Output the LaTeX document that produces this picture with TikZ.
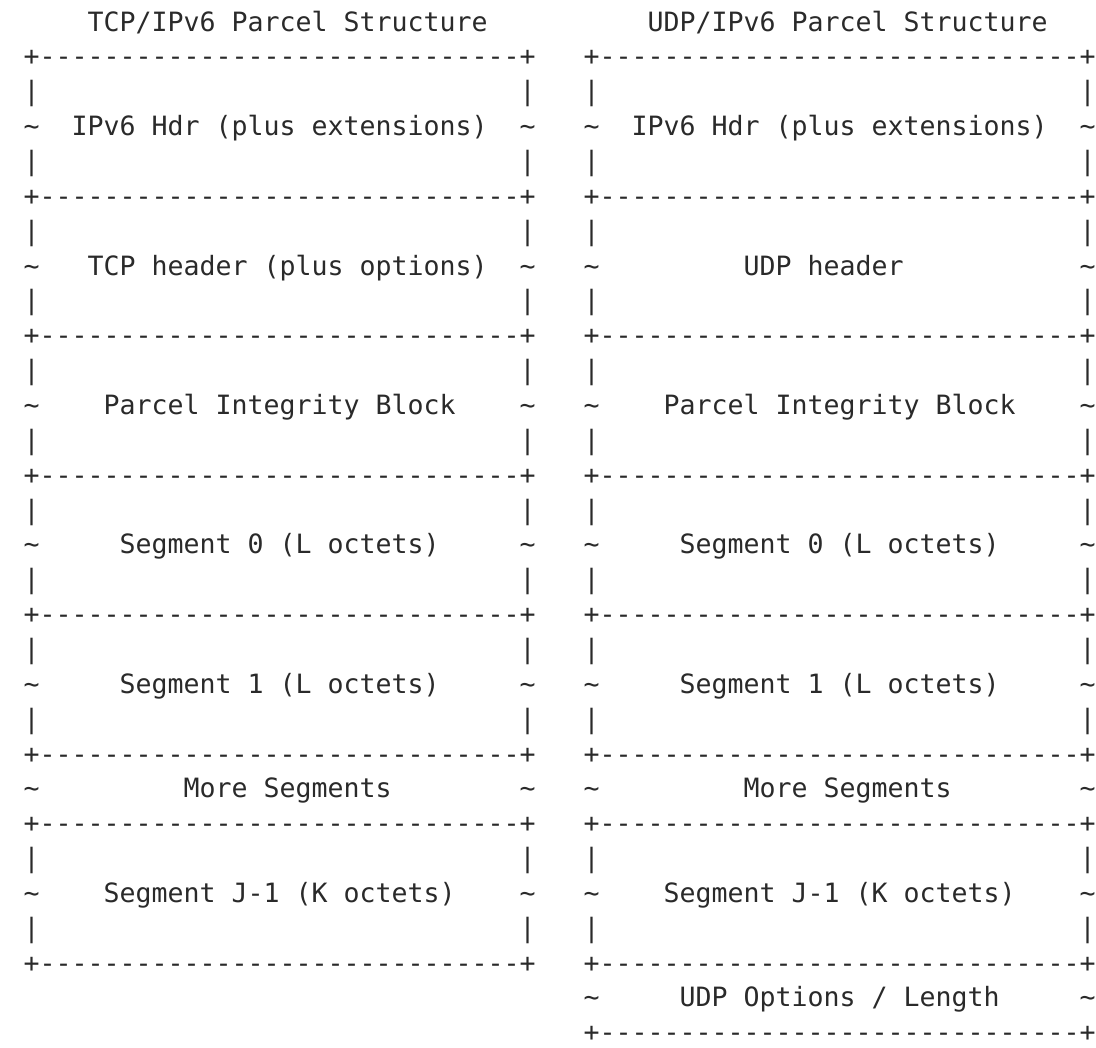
\documentclass[tikz,border=0pt]{standalone}
\usepackage{fontspec}
\newfontfamily\asciimono[Ligatures=TeXOff]{DejaVu Sans Mono}
\definecolor{ink}{HTML}{2A2A2A}
\tikzset{
  asc/.style={inner sep=0pt, outer sep=0pt, anchor=base west,
    font=\asciimono\fontsize{26.58}{30}\selectfont, text=ink}
}
% #1 name, #2 column, #3 row, #4 text
\newcommand\asc[4]{\node[asc] (#1) at ({23.7+(#2)*16},{66+((#3)-1)*34.85}) {#4};}
\newcommand\bordertxt{+------------------------------+}
\newcommand\tld{\char"7E}
\begin{document}
\begin{tikzpicture}[x=1pt,y=-1pt]
\useasboundingbox (0,0) rectangle (1096,1048);
\fill[white] (0,0) rectangle (1096,1048);

% titles
\asc{lt}{4}{0}{TCP/IPv6 Parcel Structure}
\asc{rt}{39}{0}{UDP/IPv6 Parcel Structure}

% borders
\foreach \r in {1,5,9,13,17,21,23,27} {
  \asc{lb\r}{0}{\r}{\bordertxt}
  \asc{rb\r}{35}{\r}{\bordertxt}
}
\asc{rb29}{35}{29}{\bordertxt}

% vertical bars
\foreach \r in {2,4,6,8,10,12,14,16,18,20,24,26} {
  \asc{lbl\r}{0}{\r}{|}
  \asc{lbr\r}{31}{\r}{|}
  \asc{rbl\r}{35}{\r}{|}
  \asc{rbr\r}{66}{\r}{|}
}

% tildes
\foreach \r in {3,7,11,15,19,22,25} {
  \asc{ltl\r}{0}{\r}{\tld}
  \asc{ltr\r}{31}{\r}{\tld}
  \asc{rtl\r}{35}{\r}{\tld}
  \asc{rtr\r}{66}{\r}{\tld}
}
\asc{rtl28}{35}{28}{\tld}
\asc{rtr28}{66}{28}{\tld}

% left labels
\asc{l1}{3}{3}{IPv6 Hdr (plus extensions)}
\asc{l2}{4}{7}{TCP header (plus options)}
\asc{l3}{5}{11}{Parcel Integrity Block}
\asc{l4}{6}{15}{Segment 0 (L octets)}
\asc{l5}{6}{19}{Segment 1 (L octets)}
\asc{l6}{10}{22}{More Segments}
\asc{l7}{5}{25}{Segment J-1 (K octets)}

% right labels
\asc{r1}{38}{3}{IPv6 Hdr (plus extensions)}
\asc{r2}{45}{7}{UDP header}
\asc{r3}{40}{11}{Parcel Integrity Block}
\asc{r4}{41}{15}{Segment 0 (L octets)}
\asc{r5}{41}{19}{Segment 1 (L octets)}
\asc{r6}{45}{22}{More Segments}
\asc{r7}{40}{25}{Segment J-1 (K octets)}
\asc{r8}{41}{28}{UDP Options / Length}
\end{tikzpicture}
\end{document}
